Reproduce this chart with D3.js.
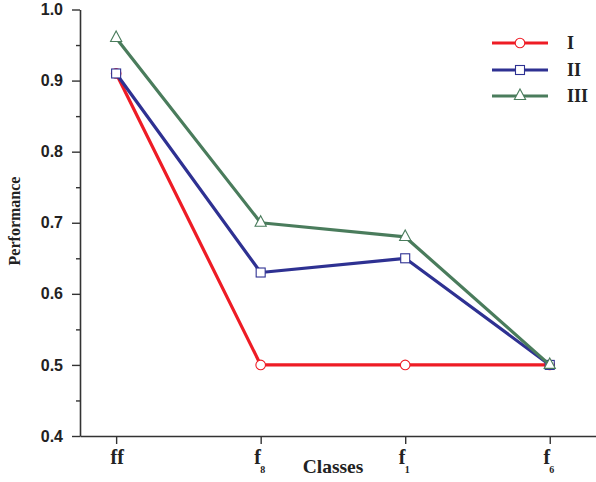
<!DOCTYPE html>
<html><head><meta charset="utf-8">
<script src="https://cdn.jsdelivr.net/npm/d3@7"></script>
<style>body{margin:0;background:#fff}svg{display:block}</style>
</head><body>
<svg id="c" width="596" height="482"></svg>
<script>
const categories = ["ff","f8","f1","f6"];
const catBase = ["f","f","f","f"];
const catSub = ["f","8","1","6"];
const seriesNames = ["I","II","III"];
const seriesI = [0.91,0.50,0.50,0.50];
const seriesII = [0.91,0.63,0.65,0.50];
const seriesIII = [0.96,0.70,0.68,0.50];
const yTicks = [0.4,0.5,0.6,0.7,0.8,0.9,1.0];
const yMinor = [0.45,0.55,0.65,0.75,0.85,0.95];

const series = [
  {name:"I", values:seriesI, color:"#ee1c25", marker:"circle"},
  {name:"II", values:seriesII, color:"#2e3192", marker:"square"},
  {name:"III", values:seriesIII, color:"#4a7c5c", marker:"triangle"}
];

const svg = d3.select("#c");
const x = d3.scaleLinear().domain([-0.25,3.32]).range([80,596]);
const y = d3.scaleLinear().domain([0.4,1.0]).range([436,9.5]);
const axisColor = "#333";

// y axis
const yAxis = svg.append("g").attr("transform","translate(80,0)")
  .call(d3.axisLeft(y).tickValues(yTicks).tickFormat(d3.format(".1f")).tickSize(8).tickSizeOuter(0));
yAxis.select(".domain").attr("stroke",axisColor).attr("stroke-width",1.6);
yAxis.selectAll(".tick line").attr("stroke",axisColor).attr("stroke-width",1.4);
yAxis.selectAll(".tick text").attr("font-family","Liberation Sans, Arial, sans-serif")
  .attr("font-weight","bold").attr("font-size","16px").attr("fill","#222").attr("x",-17);
svg.append("g").attr("transform","translate(80,0)")
  .call(d3.axisLeft(y).tickValues(yMinor).tickFormat("").tickSize(4).tickSizeOuter(0))
  .call(g=>{g.select(".domain").remove();g.selectAll(".tick line").attr("stroke",axisColor).attr("stroke-width",1.4);});

// x axis
const xAxis = svg.append("g").attr("transform","translate(0,436)")
  .call(d3.axisBottom(x).tickValues([0,1,2,3]).tickFormat("").tickSize(8).tickSizeOuter(0));
xAxis.select(".domain").attr("stroke",axisColor).attr("stroke-width",1.6);
xAxis.selectAll(".tick line").attr("stroke",axisColor).attr("stroke-width",1.4);

const tf = "Liberation Serif, Times New Roman, serif";
categories.forEach((c,i)=>{
  const t = svg.append("text").attr("font-family",tf).attr("font-weight","bold").attr("fill","#222");
  if(i===0){
    t.attr("x",x(i)+1).attr("y",464).attr("text-anchor","middle").attr("font-size","20px").text(c);
  } else {
    t.attr("x",x(i)-3).attr("y",464).attr("text-anchor","middle").attr("font-size","20px").text(catBase[i]);
    svg.append("text").attr("font-family",tf).attr("font-weight","bold").attr("fill","#222")
      .attr("x",x(i)+2).attr("y",473).attr("text-anchor","middle").attr("font-size","10px").text(catSub[i]);
  }
});

svg.append("text").attr("x",333).attr("y",473).attr("text-anchor","middle")
  .attr("font-family",tf).attr("font-weight","bold").attr("font-size","19.5px").attr("fill","#222").text("Classes");
svg.append("text").attr("transform","translate(20,221) rotate(-90)").attr("text-anchor","middle")
  .attr("font-family",tf).attr("font-weight","bold").attr("font-size","16px").attr("fill","#222").text("Performance");

const line = d3.line().x((d,i)=>x(i)).y(d=>y(d));

function drawMarker(g, type, cx, cy, color){
  if(type==="circle"){
    g.append("circle").attr("cx",cx).attr("cy",cy).attr("r",4.8).attr("fill","#fff").attr("stroke",color).attr("stroke-width",1.1);
  } else if(type==="square"){
    g.append("rect").attr("x",cx-4.5).attr("y",cy-4.5).attr("width",9).attr("height",9).attr("fill","#fff").attr("stroke",color).attr("stroke-width",1.1);
  } else {
    g.append("path").attr("d",`M${cx},${cy-7}L${cx+5.6},${cy+3.5}L${cx-5.6},${cy+3.5}Z`).attr("fill","#fff").attr("stroke",color).attr("stroke-width",1.1);
  }
}

series.forEach(s=>{
  const g = svg.append("g");
  g.append("path").datum(s.values).attr("d",line).attr("fill","none").attr("stroke",s.color).attr("stroke-width",3.2).attr("stroke-linejoin","round");
  s.values.forEach((v,i)=>drawMarker(g,s.marker,x(i),y(v),s.color));
});

// legend
const legY = [43,70,96];
series.forEach((s,i)=>{
  const g = svg.append("g");
  g.append("line").attr("x1",492).attr("x2",548).attr("y1",legY[i]).attr("y2",legY[i]).attr("stroke",s.color).attr("stroke-width",3.2);
  drawMarker(g,s.marker,520,legY[i],s.color);
  g.append("text").attr("x",567).attr("y",legY[i]+6).attr("font-family",tf).attr("font-weight","bold")
    .attr("font-size","18px").attr("fill","#222").text(s.name);
});
</script>
</body></html>
